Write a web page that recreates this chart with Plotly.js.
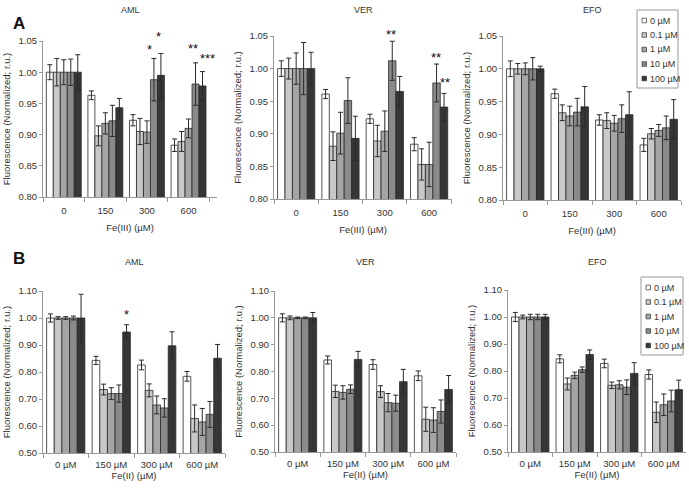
<!DOCTYPE html>
<html><head><meta charset="utf-8">
<script src="https://cdn.plot.ly/plotly-3.0.1.min.js"></script>
<style>html,body{margin:0;padding:0;background:#fff}#chart{width:689px;height:489px}</style>
</head><body><div id="chart"></div>
<script>
// ---------- DATA ----------
const seriesNames = ['0 µM', '0.1 µM', '1 µM', '10 µM', '100 µM'];
const catsA = ['0', '150', '300', '600'];
const catsB = ['0 µM', '150 µM', '300 µM', '600 µM'];
const panelTitles = ['AML', 'VER', 'EFO', 'AML', 'VER', 'EFO'];
const xTitleA = 'Fe(III) (µM)';
const xTitleB = 'Fe(II) (µM)';
const yTitle = 'Fluorescence (Normalized; r.u.)';

// Panel A: Fe(III); rows = series (0, 0.1, 1, 10, 100 µM), columns = categories
const A_AML_mean = [[1, 0.963, 0.923, 0.883], [1, 0.898, 0.905, 0.889], [1, 0.918, 0.904, 0.910], [1, 0.922, 0.988, 0.981], [1, 0.943, 0.995, 0.978]];
const A_AML_err  = [[0.012, 0.007, 0.009, 0.010], [0.022, 0.016, 0.021, 0.016], [0.020, 0.017, 0.018, 0.015], [0.021, 0.025, 0.034, 0.034], [0.028, 0.015, 0.035, 0.023]];
const A_VER_mean = [[1, 0.961, 0.923, 0.884], [1, 0.881, 0.889, 0.853], [1, 0.901, 0.904, 0.853], [1, 0.951, 1.012, 0.978], [1, 0.893, 0.965, 0.941]];
const A_VER_err  = [[0.012, 0.007, 0.007, 0.010], [0.016, 0.022, 0.024, 0.024], [0.024, 0.032, 0.031, 0.034], [0.040, 0.035, 0.030, 0.029], [0.025, 0.034, 0.023, 0.021]];
const A_EFO_mean = [[1, 0.962, 0.922, 0.884], [1, 0.933, 0.921, 0.901], [1, 0.928, 0.917, 0.906], [1, 0.934, 0.924, 0.910], [1, 0.942, 0.930, 0.923]];
const A_EFO_err  = [[0.012, 0.007, 0.008, 0.010], [0.008, 0.012, 0.012, 0.008], [0.009, 0.015, 0.012, 0.009], [0.017, 0.021, 0.021, 0.018], [0.004, 0.031, 0.035, 0.030]];

// Panel B: Fe(II)
const B_AML_mean = [[1, 0.843, 0.826, 0.784], [1, 0.735, 0.732, 0.628], [1, 0.720, 0.678, 0.615], [1, 0.720, 0.667, 0.643], [1, 0.948, 0.897, 0.851]];
const B_AML_err  = [[0.015, 0.015, 0.018, 0.018], [0.005, 0.020, 0.024, 0.050], [0.005, 0.022, 0.033, 0.050], [0.007, 0.032, 0.034, 0.048], [0.088, 0.027, 0.052, 0.051]];
const B_VER_mean = [[1, 0.843, 0.826, 0.784], [1, 0.726, 0.725, 0.622], [1, 0.722, 0.684, 0.619], [1, 0.734, 0.682, 0.651], [1, 0.845, 0.762, 0.733]];
const B_VER_err  = [[0.015, 0.015, 0.018, 0.018], [0.007, 0.023, 0.022, 0.045], [0.003, 0.025, 0.034, 0.046], [0.003, 0.016, 0.030, 0.043], [0.020, 0.030, 0.046, 0.052]];
const B_EFO_mean = [[1, 0.845, 0.828, 0.787], [1, 0.752, 0.747, 0.647], [1, 0.784, 0.749, 0.675], [1, 0.805, 0.740, 0.689], [1, 0.861, 0.791, 0.731]];
const B_EFO_err  = [[0.017, 0.015, 0.016, 0.017], [0.007, 0.022, 0.012, 0.038], [0.010, 0.012, 0.015, 0.040], [0.010, 0.010, 0.027, 0.040], [0.010, 0.017, 0.040, 0.035]];

// Significance marks: [panel index, category index, series index, label]
const stars = [
  [0, 2, 3, '*'], [0, 2, 4, '*'], [0, 3, 3, '**'], [0, 3, 4, '***'],
  [1, 2, 3, '**'], [1, 3, 3, '**'], [1, 3, 4, '**'],
  [3, 1, 4, '*']
];

// ---------- STYLE / LAYOUT ----------
const W = 689, H = 489;
const FONT = 'Liberation Sans, Arial, sans-serif';
const TXT = '#333';
const barColors = ['#ffffff', '#c8c8c8', '#a5a5a5', '#8a8a8a', '#363636'];
const BARGAP = 0.16;
// pixel boxes [x0, x1, yTop, yBottom]
const boxes = [
  [43, 217, 41, 197], [274, 452, 36, 199], [503, 681, 36, 200],
  [43, 225, 291, 453], [275, 456, 291, 452], [508, 686, 290, 452]
];
// star label offsets in px: [dx, lift above error-bar top]
const starOffsets = [[-4, 12], [-2, 20], [-3, 17], [5, 16], [-1, 10], [-1, 10], [1, 14], [0, 13]];
// manual legend boxes: [x0, y0, x1, y1] in px
const legendBoxes = [[637, 10, 678, 88], [641, 277, 683, 355]];

const panels = [
  {mean: A_AML_mean, err: A_AML_err, cats: catsA, xt: xTitleA, range: [0.8, 1.05], dtick: 0.05},
  {mean: A_VER_mean, err: A_VER_err, cats: catsA, xt: xTitleA, range: [0.8, 1.05], dtick: 0.05},
  {mean: A_EFO_mean, err: A_EFO_err, cats: catsA, xt: xTitleA, range: [0.8, 1.05], dtick: 0.05},
  {mean: B_AML_mean, err: B_AML_err, cats: catsB, xt: xTitleB, range: [0.5, 1.1], dtick: 0.1},
  {mean: B_VER_mean, err: B_VER_err, cats: catsB, xt: xTitleB, range: [0.5, 1.1], dtick: 0.1},
  {mean: B_EFO_mean, err: B_EFO_err, cats: catsB, xt: xTitleB, range: [0.5, 1.1], dtick: 0.1}
];

const traces = [];
const layout = {
  width: W, height: H,
  margin: {l: 0, r: 0, t: 0, b: 0},
  paper_bgcolor: '#fff', plot_bgcolor: '#fff',
  font: {family: FONT, color: TXT, size: 9},
  barmode: 'group', bargap: BARGAP, bargroupgap: 0,
  showlegend: false,
  annotations: [], shapes: []
};

panels.forEach((p, i) => {
  const suf = i === 0 ? '' : String(i + 1);
  const b = boxes[i];
  const isA = i < 3;
  p.mean.forEach((vals, s) => {
    traces.push({
      type: 'bar', x: p.cats, y: vals, name: seriesNames[s],
      xaxis: 'x' + suf, yaxis: 'y' + suf,
      marker: {color: barColors[s], line: {color: '#2a2a2a', width: 0.8}},
      error_y: {type: 'data', array: p.err[s], visible: true, color: '#2a2a2a', thickness: 1, width: 2.5},
      showlegend: false, hoverinfo: 'skip'
    });
  });
  layout['xaxis' + suf] = {
    domain: [b[0] / W, b[1] / W], anchor: 'y' + suf, type: 'category',
    showline: true, linecolor: '#999', linewidth: 1, ticks: 'outside', tickson: 'boundaries',
    ticklen: 4, tickcolor: '#999', showgrid: false, zeroline: false,
    ticklabelstandoff: isA ? 5 : 3,
    tickfont: {size: 9.5, family: FONT, color: TXT},
    title: {text: p.xt, font: {size: 9.5, family: FONT, color: TXT}, standoff: isA ? 8 : 2},
    automargin: false, fixedrange: true
  };
  layout['yaxis' + suf] = {
    domain: [1 - b[3] / H, 1 - b[2] / H], anchor: 'x' + suf, range: p.range,
    tick0: p.range[0], dtick: p.dtick, tickformat: '.2f',
    showline: true, linecolor: '#999', linewidth: 1, ticks: 'outside', ticklen: 3, tickcolor: '#999',
    showgrid: false, zeroline: false,
    tickfont: {size: 9.5, family: FONT, color: TXT},
    title: {text: yTitle, font: {size: 9.5, family: FONT, color: TXT}, standoff: 6},
    automargin: false, fixedrange: true
  };
  layout.annotations.push({
    text: panelTitles[i], xref: 'x' + suf + ' domain', x: 0.5, yref: 'paper',
    y: 1 - (isA ? 10 : 262) / H, yanchor: 'middle', showarrow: false,
    font: {size: 9, family: FONT, color: TXT}
  });
});

layout.annotations.push({text: '<b>A</b>', xref: 'paper', yref: 'paper', x: 11 / W, y: 1 - 12 / H,
  showarrow: false, font: {size: 17, family: FONT, color: '#111'}});
layout.annotations.push({text: '<b>B</b>', xref: 'paper', yref: 'paper', x: 11 / W, y: 1 - 258 / H,
  showarrow: false, font: {size: 17, family: FONT, color: '#111'}});

// significance stars
const barW = (1 - BARGAP) / seriesNames.length;
stars.forEach(([pi, ci, si, lab], k) => {
  const suf = pi === 0 ? '' : String(pi + 1);
  const p = panels[pi];
  layout.annotations.push({
    text: lab, xref: 'x' + suf, yref: 'y' + suf,
    x: ci + (si - (seriesNames.length - 1) / 2) * barW,
    y: p.mean[si][ci] + p.err[si][ci], yanchor: 'middle', xanchor: 'center',
    xshift: starOffsets[k][0], yshift: starOffsets[k][1] - 3,
    showarrow: false, font: {size: 13, family: FONT, color: '#111'}
  });
});

// legends (drawn in the EFO panels)
legendBoxes.forEach(lb => {
  const [x0, y0, x1, y1] = lb;
  layout.shapes.push({type: 'rect', xref: 'paper', yref: 'paper', x0: x0 / W, x1: x1 / W,
    y0: 1 - y0 / H, y1: 1 - y1 / H, line: {color: '#999', width: 1}, fillcolor: '#fff', layer: 'above'});
  const step = (y1 - y0 - 20) / (seriesNames.length - 1);
  seriesNames.forEach((nm, s) => {
    const cy = y0 + 10.5 + s * step;
    layout.shapes.push({type: 'rect', xref: 'paper', yref: 'paper',
      x0: (x0 + 5) / W, x1: (x0 + 9.5) / W, y0: 1 - (cy - 2.3) / H, y1: 1 - (cy + 2.3) / H,
      line: {color: '#333', width: 0.7}, fillcolor: barColors[s], layer: 'above'});
    layout.annotations.push({text: nm, xref: 'paper', yref: 'paper', x: (x0 + 10.5) / W, y: 1 - cy / H,
      xanchor: 'left', yanchor: 'middle', showarrow: false, font: {size: 9, family: FONT, color: TXT}});
  });
});

Plotly.newPlot('chart', traces, layout, {staticPlot: true, displayModeBar: false});
</script>
</body></html>
